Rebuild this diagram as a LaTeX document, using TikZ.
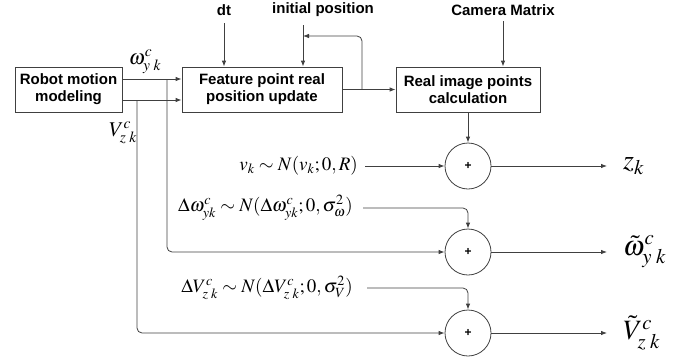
\documentclass[tikz,border=0pt]{standalone}
\usepackage{mathptmx}
\usepackage[no-math]{fontspec}
\newfontfamily\blockfont{Liberation Sans}
\usetikzlibrary{arrows.meta}

\tikzset{
  block/.style={draw=black!75, line width=0.8pt, minimum height=45pt, align=center,
    inner sep=0pt, font=\blockfont\bfseries\fontsize{15}{17}\selectfont},
  sumnode/.style={draw=black!75, line width=0.8pt, circle, minimum size=46pt,
    inner sep=0pt, font=\blockfont\bfseries\fontsize{12}{12}\selectfont},
  conn/.style={draw=black!75, line width=0.8pt, -{Latex[length=6pt,width=4.5pt]}},
  intext/.style={font=\blockfont\bfseries\fontsize{15}{17}\selectfont},
  noise/.style={anchor=east, inner sep=0pt, font=\fontsize{19}{22}\selectfont},
  outlabel/.style={anchor=west, inner xsep=16pt, inner ysep=0pt, font=\fontsize{28}{30}\selectfont},
  sig/.style={inner sep=0pt, font=\fontsize{21}{23}\selectfont}
}

\begin{document}
\begin{tikzpicture}[x=1pt,y=-1pt]
  \useasboundingbox (0,0) rectangle (693,362);

  \node[block, minimum width=107pt] (robot) at (68.5,89.5) {Robot motion\\modeling};
  \node[block, minimum width=160pt] (feat) at (262,89.5) {Feature point real\\position update};
  \node[block, minimum width=144pt] (img) at (468,89.5) {Real image points\\calculation};

  \node[intext] (dt) at (224,10) {dt};
  \node[intext] (init) at (323,10) {initial position};
  \node[intext] (cam) at (503,10) {Camera Matrix};

  \node[sumnode] (sumz) at (468,166) {+};
  \node[sumnode] (sumw) at (468,252) {+};
  \node[sumnode] (sumv) at (468,333) {+};

  \coordinate (ip) at (303,25);
  \coordinate (fb) at (362,36);
  \coordinate (wbr) at (167,79);
  \coordinate (vbr) at (137,100);

  % inputs from the top
  \draw[conn, shorten <=4pt] (dt.south) -- (dt.south |- feat.north);
  \draw[conn] (ip) -- (ip |- feat.north);
  \draw[conn, shorten <=2pt] (cam.south) -- (cam.south |- img.north);

  % update loop
  \draw[conn] (feat.east) -- (img.west);
  \draw[conn, rounded corners=5pt] (fb |- feat.east) -- (fb) -- (fb -| ip);

  % robot outputs
  \draw[conn] (wbr -| robot.east) -- (wbr -| feat.west);
  \draw[conn] (vbr -| robot.east) -- (vbr -| feat.west);
  \draw[conn, rounded corners=5pt] (wbr) -- (wbr |- sumw) -- (sumw);
  \draw[conn, rounded corners=5pt] (vbr) -- (vbr |- sumv) -- (sumv);
  \node[sig] (wlab) at (145,62) {$\omega^c_{y\;k}$};
  \node[sig] (vlab) at (123,133) {$V^c_{z\;k}$};

  % noise terms
  \node[noise] (nz) at (358,166) {$v_k \sim N(v_k;0,R)$};
  \node[noise] (nw) at (353,208) {$\Delta\omega^c_{yk} \sim N(\Delta\omega^c_{yk};0,\sigma_\omega^2)$};
  \node[noise] (nv) at (353,288) {$\Delta V^c_{z\;k} \sim N(\Delta V^c_{z\;k};0,\sigma_V^2)$};
  \draw[conn] (img.south) -- (sumz);
  \draw[conn, shorten <=7pt] (nz.east) -- (sumz);
  \draw[conn, rounded corners=5pt, shorten <=10pt] (nw.east) -- (nw.east -| sumw) -- (sumw);
  \draw[conn, rounded corners=5pt, shorten <=14pt] (nv.east) -- (nv.east -| sumv) -- (sumv);

  % outputs
  \node[outlabel] (zk) at (607,166) {$z_k$};
  \node[outlabel] (wk) at (607,252) {$\tilde{\omega}^c_{y\;k}$};
  \node[outlabel] (vk) at (607,333) {$\tilde{V}^c_{z\;k}$};
  \draw[conn] (sumz) -- (zk);
  \draw[conn] (sumw) -- (wk);
  \draw[conn] (sumv) -- (vk);
\end{tikzpicture}
\end{document}
